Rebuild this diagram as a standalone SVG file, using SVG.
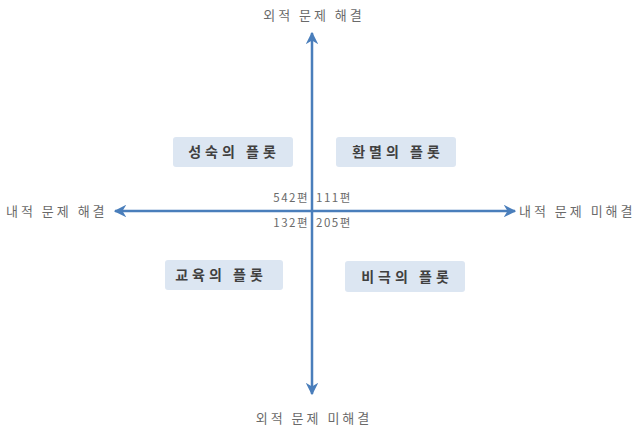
<svg xmlns="http://www.w3.org/2000/svg" width="639" height="430" viewBox="0 0 639 430">
<style>
.lbl{font-family:"Noto Sans CJK KR","Noto Sans CJK SC",sans-serif;font-size:13px;letter-spacing:3px;fill:#6a6a6a}
.num{font-family:"Noto Sans CJK KR",sans-serif;font-size:11.5px;letter-spacing:1.5px;fill:#6a6a6a}
.box{fill:#dce6f2}
.bt{font-family:"Noto Sans CJK KR",sans-serif;font-size:14px;font-weight:bold;letter-spacing:4px;fill:#404040;text-anchor:middle}
.ax{stroke:#4a7ebb;stroke-width:2.5;fill:none}
</style>
<defs>
<marker id="ah" viewBox="0 0 10 10" refX="9" refY="5" markerWidth="5" markerHeight="5" orient="auto-start-reverse" markerUnits="strokeWidth">
<path d="M0,0 L10,5 L0,10 L3,5 z" fill="#4a7ebb"/>
</marker>
</defs>
<rect width="639" height="430" fill="#ffffff"/>
<g id="connectors">
<line class="ax" x1="312" y1="394" x2="312" y2="33" marker-end="url(#ah)" marker-start="url(#ah)"/>
<line class="ax" x1="115" y1="211" x2="515" y2="211" marker-end="url(#ah)" marker-start="url(#ah)"/>
</g>
<g id="top"><text class="lbl" x="314" y="20" text-anchor="middle">외적 문제 해결</text></g>
<g id="bottom"><text class="lbl" x="314" y="423" text-anchor="middle">외적 문제 미해결</text></g>
<g id="left"><text class="lbl" x="6" y="216">내적 문제 해결</text></g>
<g id="right"><text class="lbl" x="519" y="216">내적 문제 미해결</text></g>
<g id="n542"><text class="num" x="309" y="202" text-anchor="end">542편</text></g>
<g id="n111"><text class="num" x="316" y="202">111편</text></g>
<g id="n132"><text class="num" x="309" y="227" text-anchor="end">132편</text></g>
<g id="n205"><text class="num" x="316" y="227">205편</text></g>
<g id="seongsuk"><rect class="box" x="173" y="137" width="120" height="30" rx="3"/><text class="bt" x="234" y="157">성숙의 플롯</text></g>
<g id="hwanmyeol"><rect class="box" x="336" y="137" width="120" height="30" rx="3"/><text class="bt" x="398" y="157">환멸의 플롯</text></g>
<g id="gyoyuk"><rect class="box" x="165" y="260" width="118" height="30" rx="3"/><text class="bt" x="221" y="280">교육의 플롯</text></g>
<g id="bigeuk"><rect class="box" x="345" y="261" width="120" height="31" rx="3"/><text class="bt" x="407" y="282">비극의 플롯</text></g>
</svg>
